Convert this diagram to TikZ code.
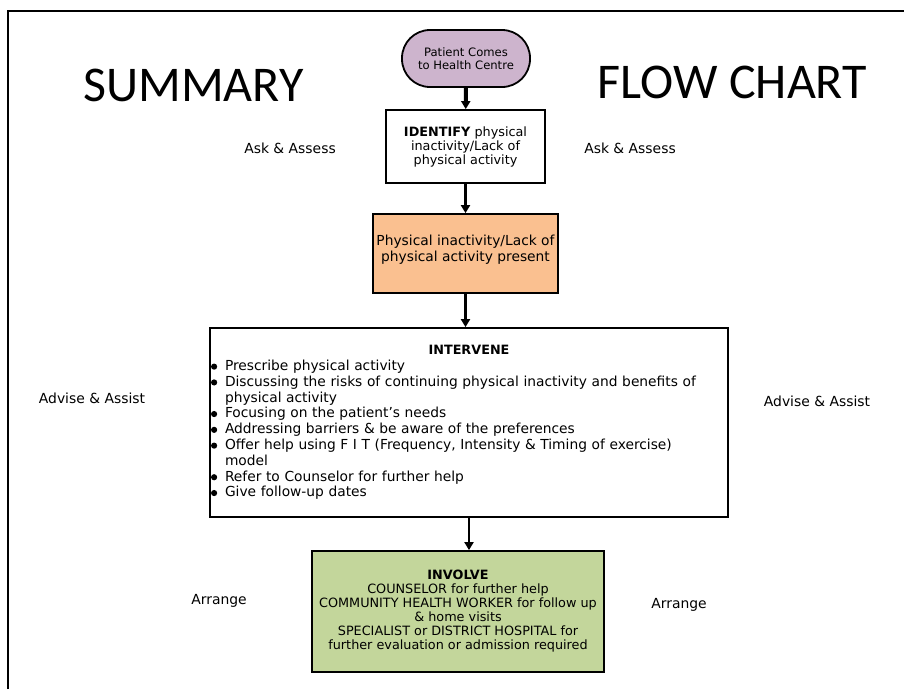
\documentclass[tikz,border=0pt]{standalone}
\usepackage{fontspec}
\setmainfont{DejaVu Sans}
\newfontfamily\titlefont{Carlito}
\usetikzlibrary{arrows.meta}
\definecolor{startFill}{HTML}{CDB4CD}
\definecolor{orangeFill}{HTML}{FAC090}
\definecolor{greenFill}{HTML}{C3D69B}
\newcommand{\bitem}[1]{\par\hangindent=14pt\hangafter=1\noindent
\makebox[14pt][l]{\tikz[baseline=-3.8pt]\fill (0,0) circle (3.1pt);}#1}

\begin{document}
\begin{tikzpicture}[x=1pt, y=-1pt]
\tikzstyle{boxStyle}=[shape = rectangle, draw, line width=1.8pt, inner sep=2pt,
align=center, font=\fontsize{12.8}{14}\selectfont]
\tikzstyle{startStyle}=[boxStyle, rounded corners=28pt, fill=startFill,
minimum width=128pt, minimum height=57pt, font=\fontsize{11.6}{13.5}\selectfont]
\tikzstyle{sideStyle}=[inner sep=0pt, font=\fontsize{13.9}{16}\selectfont]
\tikzstyle{titleStyle}=[inner sep=0pt, font=\titlefont\fontsize{50}{56}\selectfont]
\tikzstyle{aStyle}=[-{Triangle[width=9pt, length=8pt]}, line width=2.4pt]

\useasboundingbox (0,0) rectangle (904,689);
\draw[line width=2pt] (8,689) -- (8,11) -- (904,11);

\draw (193.5,85) node[titleStyle] (summary) {SUMMARY};
\draw (732.5,82) node[titleStyle] (flowchart) {FLOW CHART};

\draw (466,58.5) node[startStyle] (start) {Patient Comes\\to Health Centre};
\draw (465.5,146.5) node[boxStyle, minimum width=159pt, minimum height=73pt] (identify)
{\textbf{IDENTIFY} physical\\inactivity/Lack of\\physical activity};
\draw (465.5,253.5) node[boxStyle, fill=orangeFill, minimum width=185pt, minimum height=79pt,
font=\fontsize{13.8}{16.5}\selectfont] (present)
{Physical inactivity/Lack of\\physical activity present\\[-6pt]};
\draw (469,422.5) node[boxStyle, minimum width=518pt, minimum height=189pt, text width=516pt,
inner xsep=1pt, align=left, font=\fontsize{13.8}{15.8}\selectfont] (intervene)
{{\centering\fontsize{12.8}{15.8}\selectfont\textbf{INTERVENE}\par}
\bitem{Prescribe physical activity}
\bitem{Discussing the risks of continuing physical inactivity and benefits of\newline physical activity}
\bitem{Focusing on the patient’s needs}
\bitem{Addressing barriers \& be aware of the preferences}
\bitem{Offer help using F I T (Frequency, Intensity \& Timing of exercise)\newline model}
\bitem{Refer to Counselor for further help}
\bitem{Give follow-up dates}};
\draw (458,611.5) node[boxStyle, fill=greenFill, minimum width=292pt, minimum height=121pt] (involve)
{\textbf{INVOLVE}\\COUNSELOR for further help\\COMMUNITY HEALTH WORKER for follow up\\\& home visits\\
SPECIALIST or DISTRICT HOSPITAL for\\further evaluation or admission required};

\draw (290,148) node[sideStyle] (askL) {Ask \& Assess};
\draw (630,148) node[sideStyle] (askR) {Ask \& Assess};
\draw (92,398) node[sideStyle] (adviseL) {Advise \& Assist};
\draw (817,401) node[sideStyle] (adviseR) {Advise \& Assist};
\draw (219,601) node[sideStyle] (arrangeL) {Arrange};
\draw (679,605) node[sideStyle] (arrangeR) {Arrange};

\draw[aStyle, line width=4pt] (start) -- (identify);
\draw[aStyle] (identify) -- (present);
\draw[aStyle] (present.south) -- (present.south |- intervene.north);
\draw[aStyle] (intervene.south) -- (intervene.south |- involve.north);
\end{tikzpicture}
\end{document}
